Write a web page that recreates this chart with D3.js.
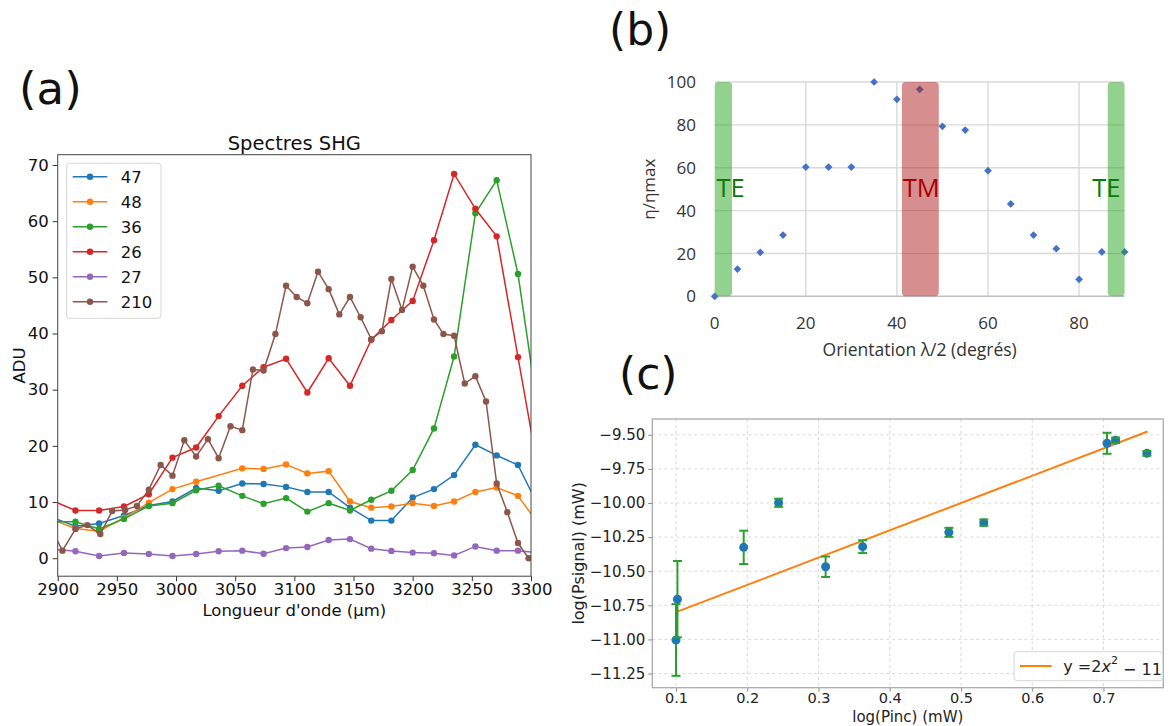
<!DOCTYPE html>
<html><head><meta charset="utf-8">
<script src="https://cdn.jsdelivr.net/npm/d3@7"></script>
<style>body{margin:0;background:#fff} svg{display:block}</style>
</head><body>
<svg id="chart" width="1170" height="726"></svg>
<script>
// ---------- Panel (a) data ----------
const wavelengths = [2896,2915,2935,2956,2977,2997,3017,3036,3056,3074,3093,3111,3129,3147,3165,3182,3200,3218,3235,3253,3271,3289,3307];
const s47 = [7.2,5.7,6.2,7.6,9.4,10.1,12.5,12.0,13.3,13.2,12.7,11.8,11.8,9.0,6.7,6.7,10.8,12.3,14.8,20.2,18.3,16.6,8.9];
const s48 = [6.8,5.3,4.8,7.2,9.9,12.3,13.6,null,16.0,15.9,16.7,15.1,15.5,10.1,9.0,9.2,9.8,9.3,10.1,11.8,12.6,11.1,5.9];
const s36 = [6.5,6.5,5.2,7.0,9.3,9.8,12.1,12.9,11.1,9.7,10.7,8.3,9.8,8.5,10.4,12.0,15.7,23.1,35.9,61.4,67.3,50.6,24.6];
const s26 = [10.2,8.5,8.5,9.2,11.4,17.9,19.7,25.3,30.7,34.0,35.5,29.5,35.6,30.7,38.9,42.4,45.8,56.6,68.4,62.2,57.3,35.8,14.5];
const s27 = [1.6,1.25,0.4,0.95,0.77,0.4,0.77,1.25,1.35,0.8,1.8,2.0,3.25,3.4,1.7,1.3,1.0,0.9,0.5,2.1,1.35,1.35,0.95];
const wavelengths210 = [2894,2904,2915,2925,2936,2946,2957,2967,2977,2987,2997,3007,3017,3027,3036,3046,3056,3065,3074,3084,3093,3102,3111,3120,3129,3138,3147,3156,3165,3174,3182,3191,3200,3209,3218,3226,3235,3244,3253,3262,3271,3280,3289,3298];
const s210 = [5.5,1.35,5.2,5.9,4.3,8.4,8.6,9.3,12.2,16.6,14.7,21.0,18.1,21.2,17.8,23.5,22.8,33.6,33.4,39.9,48.5,46.5,45.4,51.0,47.9,43.4,46.5,42.9,39.0,40.4,49.7,44.2,51.9,48.5,42.5,39.9,39.6,31.1,32.4,27.9,13.3,8.2,2.7,0.0];
const seriesNames = ["47","48","36","26","27","210"];
const seriesColors = ["#1f77b4","#ff7f0e","#2ca02c","#d62728","#9467bd","#8c564b"];
const xTicksA = [2900,2950,3000,3050,3100,3150,3200,3250,3300];
const yTicksA = [0,10,20,30,40,50,60,70];

// ---------- Panel (b) data ----------
const orientations = [0,5,10,15,20,25,30,35,40,45,50,55,60,65,70,75,80,85,90];
const etaRatio = [0,12.7,20.5,28.6,60.3,60.3,60.3,100,91.9,96.6,79.3,77.6,58.6,43.1,28.6,22.2,7.9,20.7,20.7];
const bandStart = [0,41.1,86.3];
const bandEnd = [3.8,49.2,90];
const bandLabels = ["TE","TM","TE"];
const bandLabelAt = [0.4,41.3,82.9];
const xTicksB = [0,20,40,60,80];
const yTicksB = [0,20,40,60,80,100];

// ---------- Panel (c) data ----------
const logPinc = [0.102,0.100,0.195,0.244,0.310,0.362,0.483,0.532,0.705,0.717,0.761];
const logPsig = [-10.705,-11.004,-10.325,-9.998,-10.467,-10.320,-10.215,-10.144,-9.562,-9.540,-9.636];
const errPsig = [0.28,0.263,0.122,0.03,0.075,0.047,0.033,0.023,0.077,0.02,0.017];
const fitX = [0.1,0.762];
const fitY = [-10.8,-9.476];
const xTicksC = [0.1,0.2,0.3,0.4,0.5,0.6,0.7];
const yTicksC = [-11.25,-11.0,-10.75,-10.5,-10.25,-10.0,-9.75,-9.5];

const svg = d3.select("#chart");
const DV = "DejaVu Sans";

// ================= Panel (a) =================
{
  const L=57.7,R=531,T=154.7,B=576.2;
  const x = d3.scaleLinear().domain([2900,3300]).range([L,R]);
  const y = d3.scaleLinear().domain([-3.2,71.83]).range([B,T]);
  const g = svg.append("g");
  g.append("clipPath").attr("id","clipA").append("rect").attr("x",L).attr("y",T).attr("width",R-L).attr("height",B-T);
  const ax = g.append("g").attr("transform",`translate(0,${B})`)
    .call(d3.axisBottom(x).tickValues(xTicksA).tickFormat(d3.format("d")).tickSize(5).tickPadding(2));
  const ay = g.append("g").attr("transform",`translate(${L},0)`)
    .call(d3.axisLeft(y).tickValues(yTicksA).tickSize(5).tickPadding(4));
  [ax,ay].forEach(a=>{a.select(".domain").remove();a.selectAll("line").attr("stroke","#333");
    a.selectAll("text").attr("font-family",DV).attr("font-size",16.5).attr("fill","#111");});
  const plot = g.append("g").attr("clip-path","url(#clipA)");
  const all = [
    {xs:wavelengths, ys:s47},{xs:wavelengths, ys:s48},{xs:wavelengths, ys:s36},
    {xs:wavelengths, ys:s26},{xs:wavelengths, ys:s27},{xs:wavelengths210, ys:s210}];
  const line = d3.line().x(d=>x(d[0])).y(d=>y(d[1]));
  all.forEach((s,i)=>{
    const pts = s.xs.map((v,j)=>[v,s.ys[j]]).filter(p=>p[1]!==null);
    plot.append("path").attr("d",line(pts)).attr("fill","none").attr("stroke",seriesColors[i]).attr("stroke-width",1.5);
    plot.selectAll(null).data(pts).enter().append("circle")
      .attr("cx",d=>x(d[0])).attr("cy",d=>y(d[1])).attr("r",3.2).attr("fill",seriesColors[i]);
  });
  g.append("rect").attr("x",L).attr("y",T).attr("width",R-L).attr("height",B-T)
    .attr("fill","none").attr("stroke","#444").attr("stroke-width",1);
  g.append("text").attr("x",(L+R)/2).attr("y",150).attr("text-anchor","middle")
    .attr("font-family",DV).attr("font-size",19.5).attr("fill","#111").text("Spectres SHG");
  g.append("text").attr("x",(L+R)/2).attr("y",615.5).attr("text-anchor","middle")
    .attr("font-family",DV).attr("font-size",16.5).attr("fill","#111").text("Longueur d'onde (µm)");
  g.append("text").attr("transform",`translate(25,${(T+B)/2}) rotate(-90)`).attr("text-anchor","middle")
    .attr("font-family",DV).attr("font-size",16.5).attr("fill","#111").text("ADU");
  // legend
  const lg = g.append("g");
  lg.append("rect").attr("x",66.7).attr("y",163.3).attr("width",94.3).attr("height",155).attr("rx",3)
    .attr("fill","#fff").attr("fill-opacity",0.85).attr("stroke","#d6d6d6");
  seriesNames.forEach((n,i)=>{
    const yy = 176.7+i*25;
    lg.append("line").attr("x1",72.7).attr("x2",107.3).attr("y1",yy).attr("y2",yy).attr("stroke",seriesColors[i]).attr("stroke-width",1.5);
    lg.append("circle").attr("cx",90).attr("cy",yy).attr("r",3.2).attr("fill",seriesColors[i]);
    lg.append("text").attr("x",120.7).attr("y",yy).attr("dy","0.36em").attr("font-family",DV).attr("font-size",16.5).attr("fill","#111").text(n);
  });
  svg.append("text").attr("x",19).attr("y",104).attr("font-family",DV).attr("font-size",45).attr("fill","#111").text("(a)");
}

// ================= Panel (b) =================
{
  const L=714.7,R=1124.6,T=82,B=296.3;
  const x = d3.scaleLinear().domain([0,90]).range([L,R]);
  const y = d3.scaleLinear().domain([0,100]).range([B,T]);
  const g = svg.append("g");
  const OS = "Open Sans";
  xTicksB.filter(v=>v>0).forEach(v=>g.append("line").attr("x1",x(v)).attr("x2",x(v)).attr("y1",T).attr("y2",B).attr("stroke","#d9d9d9").attr("stroke-width",1.4));
  yTicksB.forEach(v=>g.append("line").attr("x1",L).attr("x2",R).attr("y1",y(v)).attr("y2",y(v)).attr("stroke",v===0?"#bfbfbf":"#d9d9d9").attr("stroke-width",1.4));
  const sq = d3.symbol(d3.symbolSquare,30);
  g.selectAll(null).data(orientations).enter().append("path")
    .attr("d",sq).attr("transform",(d,i)=>`translate(${x(d)},${y(etaRatio[i])}) rotate(45)`).attr("fill","#4472c4");
  const bandColors = ["rgba(40,165,30,0.5)","rgba(176,30,30,0.5)","rgba(40,165,30,0.5)"];
  const textColors = ["#0b7a0b","#a80000","#0b7a0b"];
  bandStart.forEach((s,i)=>{
    g.append("rect").attr("x",x(s)).attr("y",T).attr("width",x(bandEnd[i])-x(s)).attr("height",B-T).attr("rx",4)
      .attr("fill",bandColors[i]);
  });
  bandLabels.forEach((t,i)=>{
    g.append("text").attr("x",x(bandLabelAt[i])).attr("y",197).attr("font-family",OS).attr("font-size",25.5)
      .attr("fill",textColors[i]).text(t);
  });
  xTicksB.forEach(v=>g.append("text").attr("x",x(v)).attr("y",329).attr("text-anchor","middle").attr("font-family",OS).attr("font-size",17).attr("fill","#333").text(v));
  yTicksB.forEach(v=>g.append("text").attr("x",696).attr("y",y(v)).attr("dy","0.36em").attr("text-anchor","end").attr("font-family",OS).attr("font-size",17).attr("fill","#333").text(v));
  g.append("text").attr("x",(L+R)/2).attr("y",356).attr("text-anchor","middle").attr("font-family",OS).attr("font-size",17.5).attr("fill","#333").text("Orientation λ/2 (degrés)");
  g.append("text").attr("transform",`translate(655,${(T+B)/2}) rotate(-90)`).attr("text-anchor","middle").attr("font-family",OS).attr("font-size",17).attr("fill","#333").text("η/ηmax");
  svg.append("text").attr("x",609).attr("y",45).attr("font-family",DV).attr("font-size",44).attr("fill","#111").text("(b)");
}

// ================= Panel (c) =================
{
  const L=652.3,R=1163.3,T=419,B=687.7;
  const x = d3.scaleLinear().domain([0.0667,0.784]).range([L,R]);
  const y = d3.scaleLinear().domain([-11.354,-9.384]).range([B,T]);
  const g = svg.append("g");
  xTicksC.forEach(v=>g.append("line").attr("x1",x(v)).attr("x2",x(v)).attr("y1",T).attr("y2",B).attr("stroke","#cfcfcf").attr("stroke-width",0.8).attr("stroke-dasharray","3,3"));
  yTicksC.forEach(v=>g.append("line").attr("x1",L).attr("x2",R).attr("y1",y(v)).attr("y2",y(v)).attr("stroke","#cfcfcf").attr("stroke-width",0.8).attr("stroke-dasharray","3,3"));
  const fmtY = d=>d3.format(".2f")(d).replace("-","−");
  const ax = g.append("g").attr("transform",`translate(0,${B})`)
    .call(d3.axisBottom(x).tickValues(xTicksC).tickFormat(d3.format(".1f")).tickSize(4).tickPadding(1.5));
  const ay = g.append("g").attr("transform",`translate(${L},0)`)
    .call(d3.axisLeft(y).tickValues(yTicksC).tickFormat(fmtY).tickSize(4).tickPadding(3));
  [ax,ay].forEach(a=>{a.select(".domain").remove();a.selectAll("line").attr("stroke","#888");
    a.selectAll("text").attr("font-family",DV).attr("font-size",15).attr("fill","#222");});
  ax.selectAll("text").attr("font-size",14.5);
  g.append("rect").attr("x",L).attr("y",T).attr("width",R-L).attr("height",B-T).attr("fill","none").attr("stroke","#aaa").attr("stroke-width",1.3);
  // fit line
  g.append("path").attr("d",d3.line().x(d=>x(d[0])).y(d=>y(d[1]))(fitX.map((v,i)=>[v,fitY[i]])))
    .attr("stroke","#ff7f0e").attr("stroke-width",2).attr("fill","none");
  // error bars
  logPinc.forEach((v,i)=>{
    g.append("line").attr("x1",x(v)).attr("x2",x(v)).attr("y1",y(logPsig[i]-errPsig[i])).attr("y2",y(logPsig[i]+errPsig[i]))
      .attr("stroke","#2ca02c").attr("stroke-width",2);
  });
  g.selectAll(null).data(logPinc).enter().append("circle").attr("cx",d=>x(d)).attr("cy",(d,i)=>y(logPsig[i])).attr("r",4.5).attr("fill","#1f77b4");
  logPinc.forEach((v,i)=>{
    [logPsig[i]-errPsig[i],logPsig[i]+errPsig[i]].forEach(e=>{
      g.append("line").attr("x1",x(v)-4.5).attr("x2",x(v)+4.5).attr("y1",y(e)).attr("y2",y(e)).attr("stroke","#2ca02c").attr("stroke-width",2);
    });
  });
  g.append("text").attr("x",(L+R)/2).attr("y",722).attr("text-anchor","middle").attr("font-family",DV).attr("font-size",15).attr("fill","#222").text("log(Pinc) (mW)");
  g.append("text").attr("transform",`translate(584,${(T+B)/2}) rotate(-90)`).attr("text-anchor","middle").attr("font-family",DV).attr("font-size",16).attr("fill","#222").text("log(Psignal) (mW)");
  // legend
  g.append("rect").attr("x",1014).attr("y",651.7).attr("width",148.7).attr("height",29).attr("rx",3).attr("fill","#fff").attr("fill-opacity",0.85).attr("stroke","#d6d6d6");
  g.append("line").attr("x1",1020).attr("x2",1051.7).attr("y1",666).attr("y2",666).attr("stroke","#ff7f0e").attr("stroke-width",2);
  const t = g.append("text").attr("x",1063.3).attr("y",666).attr("dy","0.36em").attr("font-family",DV).attr("font-size",16).attr("fill","#222");
  t.append("tspan").text("y =2");
  t.append("tspan").attr("font-style","italic").text("x");
  t.append("tspan").attr("font-size",11).attr("dy","-0.7em").text("2");
  t.append("tspan").attr("dy","0.7em").attr("font-size",16).text(" − 11");
  svg.append("text").attr("x",619).attr("y",389).attr("font-family",DV).attr("font-size",44).attr("fill","#111").text("(c)");
}
</script>
</body></html>
